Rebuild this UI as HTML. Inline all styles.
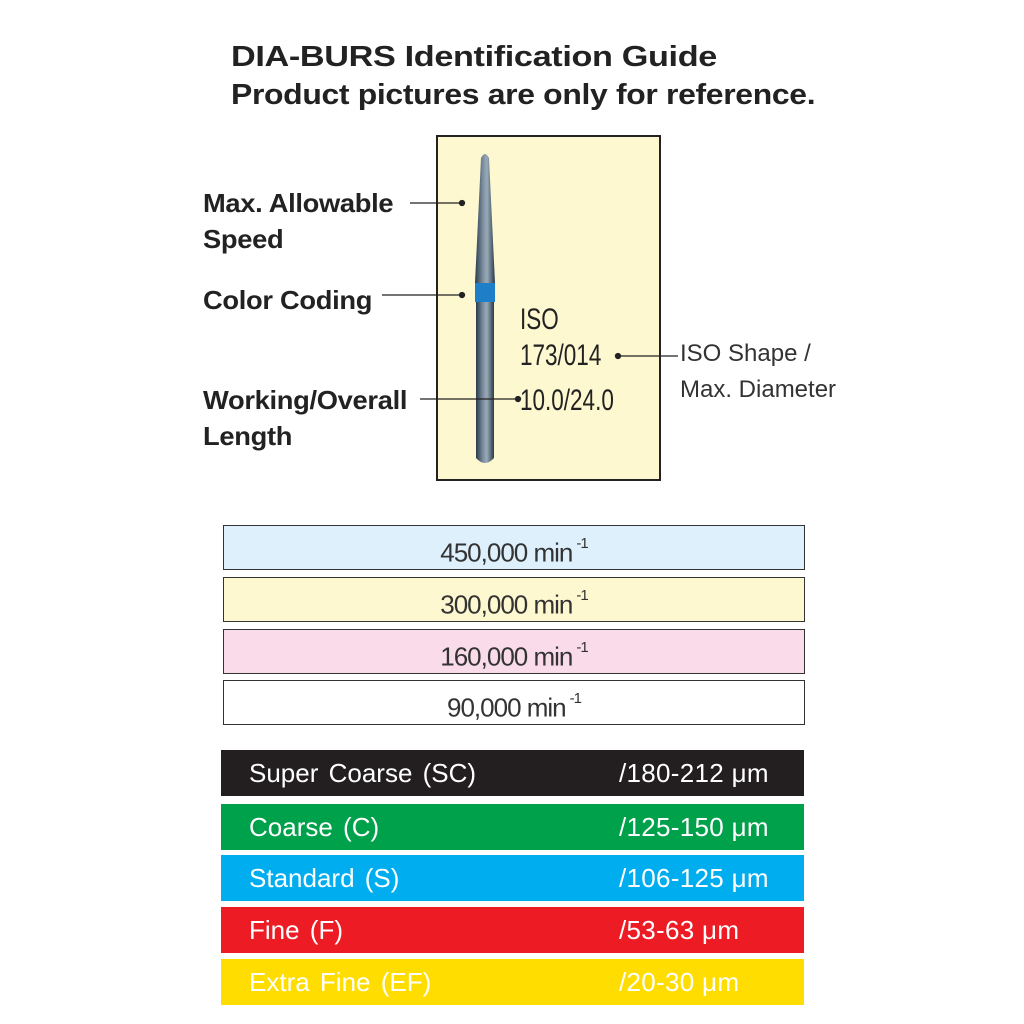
<!DOCTYPE html>
<html><head><style>
body{margin:0;width:1024px;height:1024px;background:#fff;position:relative;overflow:hidden;font-family:"Liberation Sans",sans-serif;}
.a{position:absolute;white-space:nowrap;}
.h{font-weight:bold;font-size:29px;color:#222;letter-spacing:-0.3px;transform-origin:left;}
.l{font-weight:bold;font-size:26px;color:#222;letter-spacing:-0.3px;line-height:36px;transform:scaleX(1.05);transform-origin:left;}
.sp{position:absolute;left:223px;width:580px;height:43px;border:1.5px solid #333;text-align:center;font-size:26px;line-height:43px;color:#333;letter-spacing:-1px;}
.sp sup{font-size:15px;position:relative;top:-4px;margin-left:4px;}
.bar{position:absolute;left:221px;width:583px;height:46px;color:#fff;font-size:26px;line-height:46px;}
.bar span{position:absolute;}
.bar .n{left:28px;word-spacing:3px;}.bar .v{left:398px;letter-spacing:0.3px;}
.iso{position:absolute;left:520px;font-size:30px;color:#222;transform:scaleX(0.75);transform-origin:left;line-height:36px;}
</style></head><body>
<div class="a h" style="left:231px;top:41px;transform:scaleX(1.18);">DIA-BURS Identification Guide</div>
<div class="a h" style="left:231px;top:79px;transform:scaleX(1.10);">Product pictures are only for reference.</div>
<div class="a" style="left:436px;top:135px;width:221px;height:342px;border:2.5px solid #222;background:#fdf8d0;"></div>
<svg class="a" style="left:0;top:0" width="1024" height="500">
<defs><linearGradient id="g" x1="0" x2="1"><stop offset="0" stop-color="#2a3a4a"/><stop offset="0.4" stop-color="#7d8fa0"/><stop offset="0.6" stop-color="#9aabb8"/><stop offset="1" stop-color="#2a3a4a"/></linearGradient></defs>
<path d="M481 158 Q485 150 489 158 L495 283 L475 283 Z" fill="url(#g)"/>
<rect x="475" y="283" width="20" height="19" fill="#1e7fc8"/>
<path d="M476 302 L494 302 L494 458 Q485 468 476 458 Z" fill="url(#g)"/>
<g stroke="#222" stroke-width="1.3" fill="#222">
<line x1="410" y1="203" x2="462" y2="203"/><circle cx="462" cy="203" r="2.5"/>
<line x1="382" y1="295" x2="462" y2="295"/><circle cx="462" cy="295" r="2.5"/>
<line x1="420" y1="399" x2="518" y2="399"/><circle cx="518" cy="399" r="2.5"/>
<line x1="618" y1="356" x2="678" y2="356"/><circle cx="618" cy="356" r="2.5"/>
</g>
</svg>
<div class="a l" style="left:203px;top:185px;">Max. Allowable<br>Speed</div>
<div class="a l" style="left:203px;top:282px;">Color Coding</div>
<div class="a l" style="left:203px;top:382px;">Working/Overall<br>Length</div>
<div class="iso" style="top:302px;">ISO</div>
<div class="iso" style="top:338px;">173/014</div>
<div class="iso" style="top:383px;">10.0/24.0</div>
<div class="a" style="left:680px;top:336px;font-size:24px;color:#333;line-height:36px;">ISO Shape /<br>Max. Diameter</div>
<div class="sp" style="top:525px;background:#ddf0fc;">450,000 min<sup>-1</sup></div>
<div class="sp" style="top:577px;background:#fdf8cf;">300,000 min<sup>-1</sup></div>
<div class="sp" style="top:629px;background:#f9dbe9;">160,000 min<sup>-1</sup></div>
<div class="sp" style="top:680px;background:#fff;">90,000 min<sup>-1</sup></div>
<div class="bar" style="top:750px;background:#231f20;"><span class="n">Super Coarse (SC)</span><span class="v">/180-212 μm</span></div>
<div class="bar" style="top:804px;background:#00a14b;"><span class="n">Coarse (C)</span><span class="v">/125-150 μm</span></div>
<div class="bar" style="top:855px;background:#00aeef;"><span class="n">Standard (S)</span><span class="v">/106-125 μm</span></div>
<div class="bar" style="top:907px;background:#ed1c24;"><span class="n">Fine (F)</span><span class="v">/53-63 μm</span></div>
<div class="bar" style="top:959px;background:#ffdd00;"><span class="n">Extra Fine (EF)</span><span class="v">/20-30 μm</span></div>
</body></html>
